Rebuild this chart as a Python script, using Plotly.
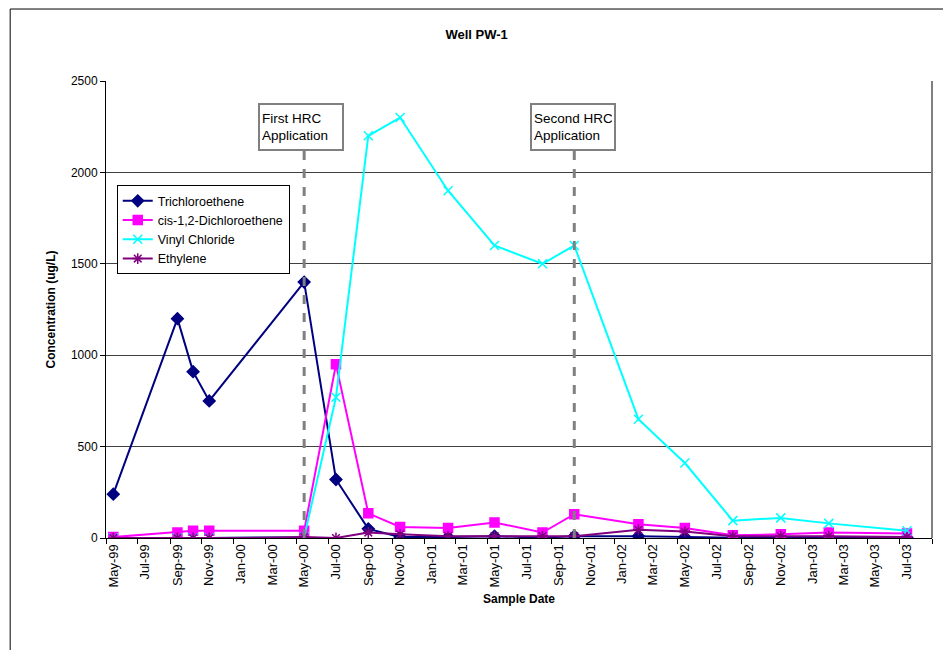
import plotly.graph_objects as go

# %% DATA
sample_dates = [
    '1999-05-15', '1999-09-15', '1999-10-15', '1999-11-15', '2000-05-15',
    '2000-07-15', '2000-09-15', '2000-11-15', '2001-02-15', '2001-05-15',
    '2001-08-15', '2001-10-15', '2002-02-15', '2002-05-15', '2002-08-15',
    '2002-11-15', '2003-02-15', '2003-07-15',
]
tce = [240, 1200, 910, 750, 1400, 320, 50, 5, 5, 10, 2, 10, 10, 5, 2, 5, 5, 2]
dce = [5, 30, 40, 40, 40, 950, 135, 60, 55, 85, 30, 130, 75, 55, 15, 20, 30, 25]
vinyl = [0, 0, 0, 0, 5, 770, 2200, 2300, 1900, 1600, 1500, 1600, 650, 410, 95, 110, 80, 40]
ethylene = [0, 0, 0, 0, 5, 0, 30, 20, 10, 10, 10, 10, 45, 35, 10, 10, 10, 5]

tick_dates = [
    '1999-05-15', '1999-07-15', '1999-09-15', '1999-11-15', '2000-01-15', '2000-03-15',
    '2000-05-15', '2000-07-15', '2000-09-15', '2000-11-15', '2001-01-15', '2001-03-15',
    '2001-05-15', '2001-07-15', '2001-09-15', '2001-11-15', '2002-01-15', '2002-03-15',
    '2002-05-15', '2002-07-15', '2002-09-15', '2002-11-15', '2003-01-15', '2003-03-15',
    '2003-05-15', '2003-07-15',
]
tick_labels = [
    'May-99', 'Jul-99', 'Sep-99', 'Nov-99', 'Jan-00', 'Mar-00',
    'May-00', 'Jul-00', 'Sep-00', 'Nov-00', 'Jan-01', 'Mar-01',
    'May-01', 'Jul-01', 'Sep-01', 'Nov-01', 'Jan-02', 'Mar-02',
    'May-02', 'Jul-02', 'Sep-02', 'Nov-02', 'Jan-03', 'Mar-03',
    'May-03', 'Jul-03',
]
hrc_dates = ['2000-05-15', '2001-10-15']
hrc_labels = ['First HRC<br>Application', 'Second HRC<br>Application']

FONT = 'Liberation Sans, Arial, sans-serif'

# %% FIGURE
fig = go.Figure()

series = [
    ('Trichloroethene', tce, '#000080', 'diamond', 9),
    ('cis-1,2-Dichloroethene', dce, '#FF00FF', 'square', 9),
    ('Vinyl Chloride', vinyl, '#00FFFF', 'x-thin-open', 9),
    ('Ethylene', ethylene, '#800080', 'asterisk-open', 9),
]
for name, vals, color, symbol, size in series:
    fig.add_trace(go.Scatter(
        x=sample_dates, y=vals, name=name, mode='lines+markers',
        line=dict(color=color, width=2),
        marker=dict(symbol=symbol, size=size, color=color,
                    line=dict(color=color, width=1.5)),
    ))

# HRC application markers
for d, label, xpos in zip(hrc_dates, hrc_labels, [0.184, 0.513]):
    fig.add_shape(type='line', xref='x', yref='paper', x0=d, x1=d, y0=0, y1=0.849,
                  line=dict(color='#808080', width=3, dash='dash'))
    fig.add_annotation(
        xref='paper', yref='paper', x=xpos, y=0.952, xanchor='left', yanchor='top',
        text=label, showarrow=False, align='left', width=78, height=40,
        bgcolor='white', bordercolor='#808080', borderwidth=2, borderpad=2,
        font=dict(family=FONT, size=13.5, color='black'),
    )

# plot area right border + chart area border
fig.add_shape(type='line', xref='paper', yref='paper', x0=1, x1=1, y0=0, y1=1,
              line=dict(color='#808080', width=2))
fig.add_shape(type='line', xref='paper', yref='paper', x0=-0.116, x1=1.1, y0=1.1575, y1=1.1575,
              line=dict(color='black', width=1))
fig.add_shape(type='line', xref='paper', yref='paper', x0=-0.116, x1=-0.116, y0=-0.3, y1=1.1575,
              line=dict(color='black', width=1))

# page body has an 8px margin, so the figure is sized/offset to fit the window
fig.update_layout(
    width=943, height=642,
    margin=dict(l=98, r=19, t=73, b=112),
    paper_bgcolor='white', plot_bgcolor='white',
    font=dict(family=FONT, size=12, color='black'),
    title=dict(text='<b>Well PW-1</b>', x=0.497, xanchor='center', y=0.959, yanchor='middle',
               font=dict(family=FONT, size=13, color='black')),
    legend=dict(x=0.013, y=0.772, xanchor='left', yanchor='top',
                bgcolor='white', bordercolor='black', borderwidth=1,
                font=dict(family=FONT, size=12.5), tracegroupgap=0),
    showlegend=True,
)
fig.update_xaxes(
    type='date', range=['1999-05-01', '2003-09-01'],
    tickmode='array', tickvals=tick_dates, ticktext=tick_labels,
    tickangle=-90, ticks='', showgrid=False,
    showline=True, linecolor='black', linewidth=1, zeroline=False,
    minor=dict(ticks='outside', ticklen=5, tickcolor='black', dtick='M2',
               tick0='1999-05-01', showgrid=False),
    tickfont=dict(family=FONT, size=13),
    title=dict(text='<b>Sample Date</b>', font=dict(family=FONT, size=12), standoff=8),
)
fig.update_yaxes(
    range=[0, 2500], dtick=500, showgrid=True, gridcolor='#404040', gridwidth=1,
    showline=True, linecolor='black', linewidth=1, zeroline=False,
    ticks='outside', ticklen=5, tickcolor='black',
    tickfont=dict(family=FONT, size=12),
    title=dict(text='<b>Concentration (ug/L)</b>', font=dict(family=FONT, size=12), standoff=12),
)

fig.write_html('out.html')
